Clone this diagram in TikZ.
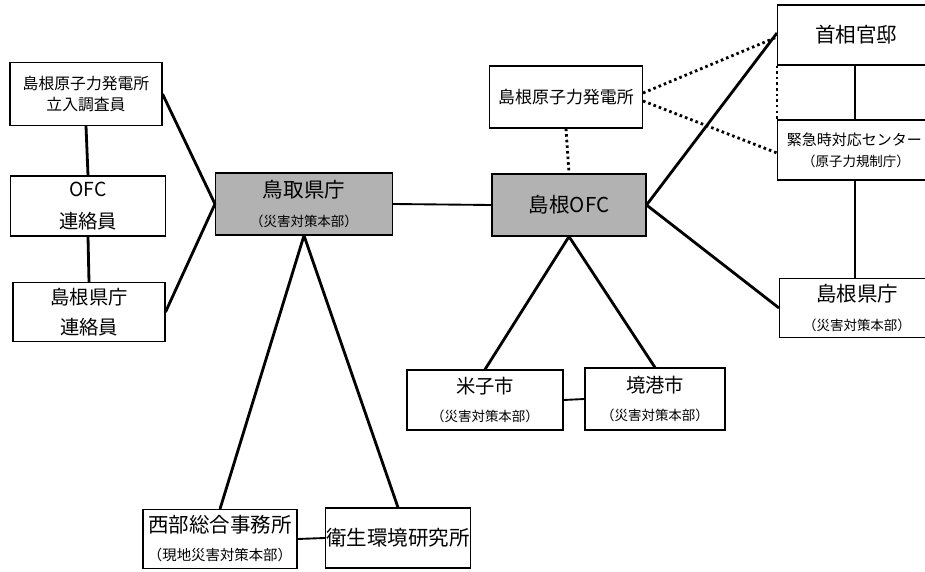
\documentclass[tikz,border=0pt]{standalone}
\usepackage{fontspec}
\setmainfont{Noto Sans CJK JP}
\usetikzlibrary{positioning}
\newcommand{\subsize}{\fontsize{11.5}{13}\selectfont}
\tikzset{
    boxwh/.style 2 args = {minimum width=#1*0.03cm, minimum height=#2*0.03cm},
    mynode/.style = {rectangle, draw=black, line width=0.9pt, inner sep=0pt, align=center, fill=white},
    mynodeg/.style = {mynode, fill=black!30},
    edgen/.style = {-, line width=2.4pt, black},
    edget/.style = {-, line width=1.6pt, black},
    edged/.style = {-, line width=2.4pt, black, dash pattern=on 2.2pt off 2.6pt}, % dotted
}
\begin{document}
\begin{tikzpicture}[x=0.03cm,y=-0.03cm]
\useasboundingbox (0,0) rectangle (925,572);
%
\node[mynode,boxwh={152}{63},font=\fontsize{13.5}{18}\selectfont] at (86, 94) (inspect) {島根原子力発電所\\立入調査員};
\node[mynode,boxwh={155}{60},font=\fontsize{16.5}{27}\selectfont] at (88, 206) (ofcliaison) {OFC\\連絡員};
\node[mynode,boxwh={152}{59},font=\fontsize{16.5}{25}\selectfont] at (89, 312) (prefliaison) {島根県庁\\連絡員};
%
\node[mynodeg,boxwh={177}{62},font=\fontsize{17.5}{24}\selectfont] at (304, 204) (tottori) {鳥取県庁\\{\subsize （災害対策本部）}};
\node[mynodeg,boxwh={154}{62},font=\fontsize{17.5}{22}\selectfont] at (569, 205) (shimaneofc) {島根OFC};
\node[mynode,boxwh={153}{62},font=\fontsize{14.5}{20}\selectfont] at (566, 97) (plant) {島根原子力発電所};
%
\node[mynode,boxwh={157}{60},font=\fontsize{17.5}{22}\selectfont] at (856, 35) (kantei) {首相官邸};
\node[mynode,boxwh={157}{60},font=\fontsize{12.8}{18}\selectfont] at (856, 150) (erc) {\hspace*{-0.1cm}緊急時対応センター\\{\subsize （原子力規制庁）}};
\node[mynode,boxwh={155}{59},font=\fontsize{17.5}{24}\selectfont] at (857, 308) (shimanepref) {島根県庁\\{\subsize （災害対策本部）}};
%
\node[mynode,boxwh={156}{60},font=\fontsize{16.5}{24}\selectfont] at (485, 400) (yonago) {米子市\\{\subsize （災害対策本部）}};
\node[mynode,boxwh={140}{62},font=\fontsize{16.5}{24}\selectfont] at (655, 399) (sakai) {境港市\\{\subsize （災害対策本部）}};
%
\node[mynode,boxwh={154}{59},font=\fontsize{17.5}{24}\selectfont] at (220, 539) (seibu) {西部総合事務所\\{\fontsize{12.3}{14}\selectfont （現地災害対策本部）}};
\node[mynode,boxwh={145}{60},font=\fontsize{17.5}{22}\selectfont] at (398, 538) (eisei) {衛生環境研究所};
%
\draw[edgen] (inspect.south) edge (ofcliaison.north);
\draw[edgen] (ofcliaison.south) edge (prefliaison.north);
\draw[edgen] (inspect.east) edge (tottori.west);
\draw[edgen] (prefliaison.east) edge (tottori.west);
\draw[edget] (tottori.east) edge (shimaneofc.west);
\draw[edgen] (tottori.south) edge (seibu.north);
\draw[edgen] (tottori.south) edge (eisei.north);
\draw[edget] (seibu.east) edge (eisei.west);
%
\draw[edgen] (shimaneofc.south) edge (yonago.north);
\draw[edgen] (shimaneofc.south) edge (sakai.north);
\draw[edget] (yonago.east) edge (sakai.west);
\draw[edgen] (shimaneofc.east) edge ([yshift=0.06cm]kantei.west);
\draw[edgen] (shimaneofc.east) edge (shimanepref.west);
\draw[edgen] ([xshift=-0.03cm]kantei.south) edge ([xshift=-0.03cm]erc.north);
\draw[edgen] ([xshift=-0.03cm]erc.south) edge ([xshift=-0.06cm]shimanepref.north);
%
\draw[edged] (plant.south) edge (shimaneofc.north);
\draw[edged] ([yshift=0.12cm]plant.east) edge ([yshift=-0.06cm]kantei.west);
\draw[edged] ([yshift=-0.12cm]plant.east) edge ([yshift=-0.09cm]erc.west);
\draw[edged] (kantei.south west) edge (erc.north west);
\end{tikzpicture}
\end{document}
